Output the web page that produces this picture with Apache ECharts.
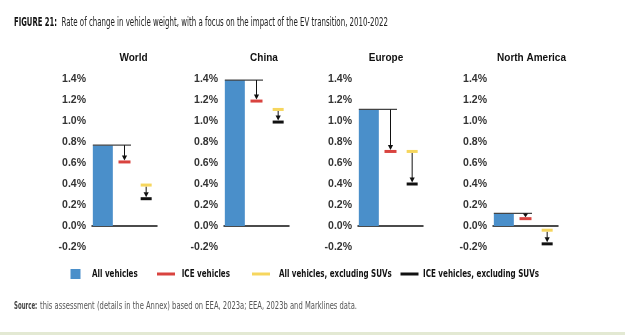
<!DOCTYPE html>
<html>
<head>
<meta charset="utf-8">
<script src="https://cdn.jsdelivr.net/npm/echarts@6/dist/echarts.min.js"></script>
<style>
  html, body { margin: 0; padding: 0; background: #ffffff; }
  #chart { width: 625px; height: 335px; }
</style>
</head>
<body>
<div id="chart"></div>
<script>
// ---- data (% change in vehicle weight per year, 2010-2022) ----
const regions = ['World', 'China', 'Europe', 'North America'];
const slots = ['All vehicles', 'ICE vehicles', 'Excluding SUVs'];
const allVehicles = [0.77, 1.39, 1.11, 0.12];
const iceVehicles = [0.61, 1.19, 0.71, 0.07];
const allExclSuvs = [0.39, 1.11, 0.71, -0.04];
const iceExclSuvs = [0.26, 0.99, 0.40, -0.17];
const yMin = -0.2, yMax = 1.4, yStep = 0.2;
const seriesNames = ['All vehicles', 'ICE vehicles', 'All vehicles, excluding SUVs', 'ICE vehicles, excluding SUVs'];

// ---- styling ----
const COLORS = { bar: '#4a8fca', ice: '#d9433f', exAll: '#f6d65e', exIce: '#111111' };
const NARROW = '"Liberation Sans Narrow", "DejaVu Sans Condensed", "Liberation Sans", sans-serif';
const SANS = '"Liberation Sans", Arial, sans-serif';
const gridLefts = [92, 224, 358, 493];
const gridWidth = 65, gridTop = 79, gridHeight = 168;
const panelTitleX = [133.5, 264, 386, 531.5];

// squeeze a text run to the width it should occupy
const measureCtx = document.createElement('canvas').getContext('2d');
function fitScale(text, font, width) {
  measureCtx.font = font;
  return width / measureCtx.measureText(text).width;
}
function fittedText(text, font, x, y, width, fill) {
  return {
    type: 'text', x: x, y: y, scaleX: fitScale(text, font, width), silent: true,
    style: { text: text, font: font, fill: fill, align: 'left', verticalAlign: 'middle' }
  };
}

// connector marks: top line from the bar, arrows between paired values
function renderConnectors(params, api) {
  const pAll = api.coord([0, api.value(1)]);
  const pIce = api.coord([1, api.value(2)]);
  const pExA = api.coord([2, api.value(3)]);
  const pExI = api.coord([2, api.value(4)]);
  const half = 1.5;
  const stroke = { stroke: '#111', lineWidth: 1 };
  function arrow(x, y0, tip) {
    const head = Math.min(5, Math.max(3, tip - y0));
    return [
      { type: 'line', shape: { x1: x, y1: y0, x2: x, y2: tip - head + 0.5 }, style: stroke },
      { type: 'polygon', shape: { points: [[x - 2.6, tip - head], [x + 2.6, tip - head], [x, tip]] }, style: { fill: '#111' } }
    ];
  }
  const children = [
    { type: 'line', shape: { x1: pAll[0] - 10, y1: pAll[1], x2: pIce[0] + 6.5, y2: pAll[1] },
      style: { stroke: '#444', lineWidth: 1.3 } }
  ];
  return {
    type: 'group',
    children: children
      .concat(arrow(pIce[0], pAll[1], pIce[1] - half))
      .concat(arrow(pExA[0], pExA[1] + half, pExI[1] - half))
  };
}

const grids = [], xAxes = [], yAxes = [], series = [], titles = [];
regions.forEach(function (region, i) {
  grids.push({ left: gridLefts[i], top: gridTop, width: gridWidth, height: gridHeight, outerBoundsMode: 'none' });
  xAxes.push({
    type: 'category', gridIndex: i, data: slots,
    axisLine: { show: true, onZero: true, lineStyle: { color: '#111', width: 1.5 } },
    axisTick: { show: false }, axisLabel: { show: false }, splitLine: { show: false }
  });
  yAxes.push({
    type: 'value', gridIndex: i, min: yMin, max: yMax, interval: yStep,
    axisLine: { show: false }, axisTick: { show: false }, splitLine: { show: false },
    axisLabel: {
      margin: 6, color: '#333', fontSize: 10.5, fontWeight: 'bold', fontFamily: SANS,
      formatter: function (v) { return v.toFixed(1) + '%'; }
    }
  });
  titles.push({
    text: region, left: panelTitleX[i], top: 53, textAlign: 'center', padding: 0,
    textStyle: { fontSize: 10, fontWeight: 'bold', color: '#111', fontFamily: SANS }
  });
  series.push({
    name: seriesNames[0], type: 'bar', xAxisIndex: i, yAxisIndex: i,
    barWidth: 20, itemStyle: { color: COLORS.bar }, data: [[0, allVehicles[i]]], z: 2
  });
  series.push({
    type: 'custom', xAxisIndex: i, yAxisIndex: i, renderItem: renderConnectors, z: 3, silent: true,
    encode: { x: 0, y: [1, 2, 3, 4] },
    data: [[0, allVehicles[i], iceVehicles[i], allExclSuvs[i], iceExclSuvs[i]]]
  });
  series.push({
    name: seriesNames[1], type: 'scatter', xAxisIndex: i, yAxisIndex: i, symbol: 'rect',
    symbolSize: [12, 3], itemStyle: { color: COLORS.ice, opacity: 1 }, data: [[1, iceVehicles[i]]], z: 4
  });
  series.push({
    name: seriesNames[2], type: 'scatter', xAxisIndex: i, yAxisIndex: i, symbol: 'rect',
    symbolSize: [11, 3], itemStyle: { color: COLORS.exAll, opacity: 1 }, data: [[2, allExclSuvs[i]]], z: 4
  });
  series.push({
    name: seriesNames[3], type: 'scatter', xAxisIndex: i, yAxisIndex: i, symbol: 'rect',
    symbolSize: [11, 3], itemStyle: { color: COLORS.exIce, opacity: 1 }, data: [[2, iceExclSuvs[i]]], z: 4
  });
});

// legend swatches come from the legend components; their labels are set in a condensed face
const legendLayout = [
  { left: 70.5, w: 10, h: 10, textX: 92, textW: 45.7 },
  { left: 157, w: 18, h: 3, textX: 181.7, textW: 48.3 },
  { left: 252, w: 18, h: 3, textX: 279, textW: 112.7 },
  { left: 400.5, w: 18, h: 3, textX: 423, textW: 116 }
];
const legendY = 274;
const legends = seriesNames.map(function (name, k) {
  const L = legendLayout[k];
  return {
    data: [name], left: L.left, top: legendY - L.h / 2, padding: 0, icon: 'rect',
    itemWidth: L.w, itemHeight: L.h, formatter: function () { return ''; },
    textStyle: { fontSize: 1 }
  };
});
const legendFont = 'bold 10px ' + NARROW;
const legendLabels = seriesNames.map(function (name, k) {
  const L = legendLayout[k];
  return fittedText(name, legendFont, L.textX, legendY, L.textW, '#111');
});

const boldTitleFont = 'bold 12px ' + NARROW;
const titleFont = '12px ' + NARROW;
const boldNoteFont = 'bold 10px ' + NARROW;
const noteFont = '10px ' + NARROW;

const chart = echarts.init(document.getElementById('chart'), null, { renderer: 'canvas' });
chart.setOption({
  backgroundColor: '#ffffff',
  animation: false,
  title: titles,
  legend: legends,
  grid: grids,
  xAxis: xAxes,
  yAxis: yAxes,
  series: series,
  graphic: [
    fittedText('FIGURE 21:', boldTitleFont, 14, 22.5, 43, '#111'),
    fittedText('Rate of change in vehicle weight, with a focus on the impact of the EV transition, 2010-2022',
      titleFont, 61.5, 22.5, 326.5, '#222'),
    fittedText('Source:', boldNoteFont, 14, 306.5, 23.3, '#444'),
    fittedText('this assessment (details in the Annex) based on EEA, 2023a; EEA, 2023b and Marklines data.',
      noteFont, 40, 306.5, 317, '#555'),
    { type: 'rect', shape: { x: 0, y: 332, width: 625, height: 3 }, style: { fill: '#e3e9d3' }, silent: true }
  ].concat(legendLabels)
});
</script>
</body>
</html>
